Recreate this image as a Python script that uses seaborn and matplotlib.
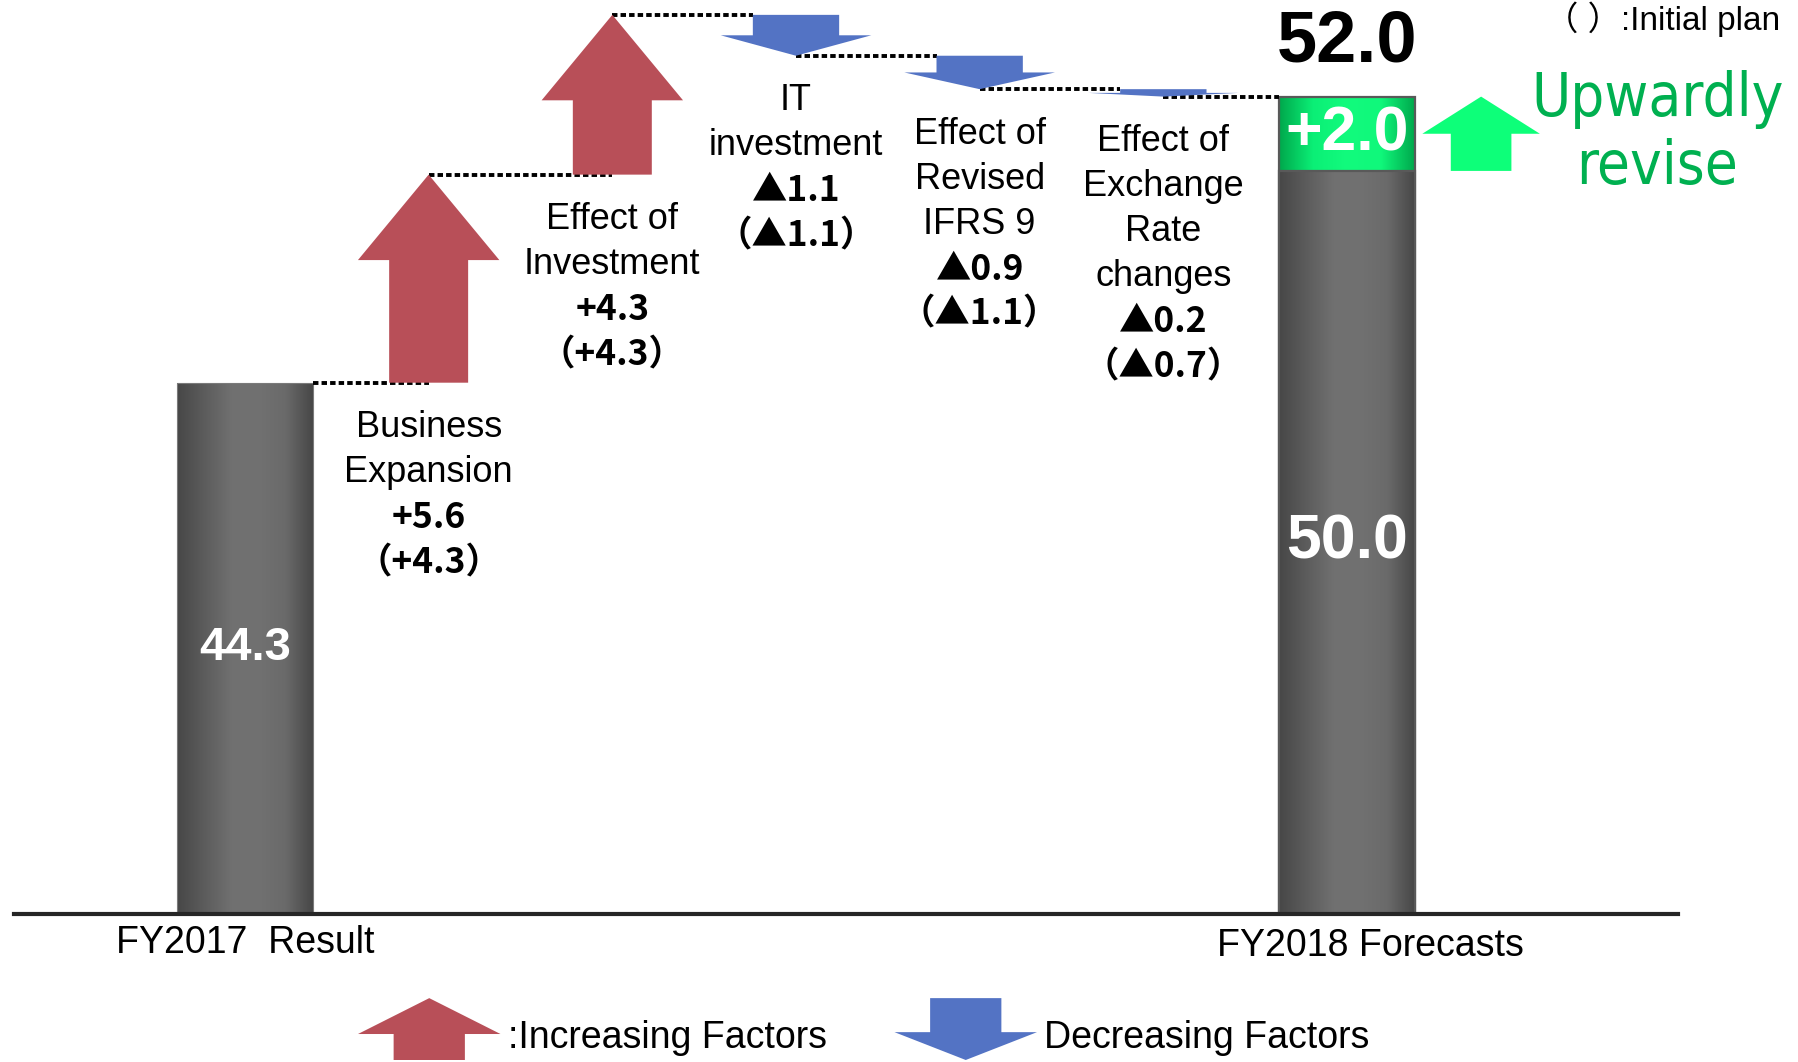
import numpy as np
import pandas as pd
import matplotlib
matplotlib.use("Agg")
import matplotlib.pyplot as plt
from matplotlib import font_manager as fm
from matplotlib import transforms as mtransforms
from matplotlib.colors import LinearSegmentedColormap
from matplotlib.patches import Patch, Polygon
from matplotlib.legend_handler import HandlerPatch
import seaborn as sns

# ---------------- data ----------------
categories = ["FY2017  Result", "Business\nExpansion", "Effect of\nInvestment",
              "IT\ninvestment", "Effect of\nRevised\nIFRS 9",
              "Effect of\nExchange\nRate\nchanges", "FY2018 Forecasts"]
result_fy2017 = 44.3
step_changes = [5.6, 4.3, -1.1, -0.9, -0.2]          # revised forecast factors
initial_plan_changes = [4.3, 4.3, -1.1, -1.1, -0.7]  # initial plan (in parentheses)
initial_plan_fy2018 = 50.0
forecast_fy2018 = 52.0
legend_labels = [":Increasing Factors", "Decreasing Factors"]
note_text = "（ ）:Initial plan"
revise_lines = ["Upwardly", "revise"]

# ---------------- style ----------------
RED = "#B84F58"
BLUE = "#5373C4"
GREEN_ARROW = "#0DFF79"
GREEN_TEXT = "#00B050"

sns.set_style("white")
plt.rcParams["font.family"] = ["Liberation Sans", "Noto Sans CJK JP", "DejaVu Sans"]
plt.rcParams["text.color"] = "black"
plt.rcParams["xtick.color"] = "black"
plt.rcParams["xtick.labelcolor"] = "black"
VALUE_FAMILY = ["Noto Sans CJK JP", "Liberation Sans", "DejaVu Sans"]

# find a condensed font for "Upwardly revise" if one is installed
narrow_fp = None
for f in fm.fontManager.ttflist:
    nm = f.name.lower()
    if ("narrow" in nm or "condensed" in nm or str(f.stretch) in ("condensed", "semi-condensed")) \
            and str(f.weight) in ("400", "normal", "regular", "book") and f.style == "normal":
        narrow_fp = fm.FontProperties(fname=f.fname, size=43)
        break
if narrow_fp is None:
    narrow_fp = fm.FontProperties(family=["Noto Sans CJK JP", "DejaVu Sans"], size=44)

W, H = 1798, 1062
fig = plt.figure(figsize=(W / 100, H / 100), dpi=100)
ax = fig.add_axes([14 / W, 1 - 914 / H, 1664 / W, 914 / H])
Y_MIN, Y_MAX = 30.0, 54.6
X_MIN, X_MAX = -1.2575, 7.802

n = len(categories)
pos = np.arange(n)
levels = np.concatenate([[result_fy2017], result_fy2017 + np.cumsum(step_changes)])

def fmt(v):
    return f"+{v:.1f}" if v > 0 else f"▲{abs(v):.1f}"

# ---------------- bars (seaborn) ----------------
BAR_W = 0.74
df_total = pd.DataFrame({"category": [categories[0], categories[-1]],
                         "value": [result_fy2017, forecast_fy2018]})
df_base = pd.DataFrame({"category": [categories[0], categories[-1]],
                        "value": [result_fy2017, initial_plan_fy2018]})
sns.barplot(data=df_total, x="category", y="value", order=categories, width=BAR_W,
            color=GREEN_TEXT, errorbar=None, ax=ax)
green_patches = list(ax.patches)
sns.barplot(data=df_base, x="category", y="value", order=categories, width=BAR_W,
            color="#606060", errorbar=None, ax=ax)
gray_patches = [p for p in ax.patches if p not in green_patches]

gray_cmap = LinearSegmentedColormap.from_list(
    "grayg", ["#474747", "#5c5c5c", "#707070", "#717171", "#6a6a6a", "#474747"])
green_cmap = LinearSegmentedColormap.from_list(
    "greeng", ["#00A84C", "#0BEF76", "#12FB7D", "#10F87B", "#00A84C"])
grad = np.linspace(0, 1, 256).reshape(1, -1)

def fill_gradient(patch, cmap, z, edge, lw):
    x0, w = patch.get_x(), patch.get_width()
    y0, h = patch.get_y(), patch.get_height()
    y_lo = max(y0, Y_MIN)
    im = ax.imshow(grad, cmap=cmap, extent=[x0, x0 + w, y_lo, y0 + h], aspect="auto",
                   interpolation="bilinear", origin="lower", zorder=z)
    im.set_clip_path(patch)
    patch.set_facecolor("none")
    patch.set_edgecolor(edge)
    patch.set_linewidth(lw)
    patch.set_zorder(z + 0.5)

for p in green_patches:
    if p.get_x() < n / 2:
        p.set_visible(False)
    else:
        fill_gradient(p, green_cmap, 1.0, "#595959", 1.6)
for p in gray_patches:
    if p.get_x() < n / 2:
        fill_gradient(p, gray_cmap, 2.0, "#7a7a7a", 0.8)
    else:
        fill_gradient(p, gray_cmap, 2.0, "#595959", 1.6)

# ---------------- connectors ----------------
UP_HH, UP_HB, UP_HL = 0.385, 0.215, 2.3
DN_HH, DN_HB, DN_FRAC = 0.41, 0.235, 0.5
for i, lv in enumerate(levels):
    start = pos[i] + BAR_W / 2 if i == 0 else pos[i]
    nxt = i + 1
    if nxt == n - 1:
        end = pos[nxt] - BAR_W / 2
    elif step_changes[nxt - 1] > 0:
        end = pos[nxt]
    else:
        end = pos[nxt] - DN_HB
    ax.plot([start, end], [lv, lv], color="black", lw=2.8,
            linestyle=(0, (1.4, 0.8)), zorder=2.8)

# ---------------- arrows ----------------
def arrow_xy(x, y_from, y_to, hh, hb, hl):
    d = np.sign(y_to - y_from)
    yb = y_to - d * hl
    xs = [x - hb, x + hb, x + hb, x + hh, x, x - hh, x - hb]
    ys = [y_from, y_from, yb, yb, y_to, yb, yb]
    return xs, ys

for i, ch in enumerate(step_changes):
    x = pos[i + 1]
    y0, y1 = levels[i], levels[i + 1]
    if ch > 0:
        xs, ys = arrow_xy(x, y0, y1, UP_HH, UP_HB, min(UP_HL, 0.55 * abs(ch)))
        ax.fill(xs, ys, color=RED, lw=0, zorder=3)
    else:
        xs, ys = arrow_xy(x, y0, y1, DN_HH, DN_HB, DN_FRAC * abs(ch))
        ax.fill(xs, ys, color=BLUE, lw=0, zorder=3)

# upward revision arrow next to the forecast bar
xs, ys = arrow_xy(pos[-1] + 0.73, initial_plan_fy2018, forecast_fy2018, 0.32, 0.165,
                  0.5 * (forecast_fy2018 - initial_plan_fy2018))
ax.fill(xs, ys, color=GREEN_ARROW, lw=0, zorder=3)

# ---------------- step labels ----------------
LINE_PX, FIRST_PX = 45, 45
for i, (name, ch, plan) in enumerate(zip(categories[1:-1], step_changes, initial_plan_changes)):
    x = pos[i + 1]
    low = min(levels[i], levels[i + 1])
    lines = [(t, False) for t in name.split("\n")] + [(fmt(ch), True), (f"（{fmt(plan)}）", True)]
    for k, (t, b) in enumerate(lines):
        ax.annotate(t, xy=(x, low), xytext=(0, -FIRST_PX - k * LINE_PX),
                    textcoords="offset pixels", ha="center", va="center",
                    fontsize=25.5 if b else 26, fontweight="bold" if b else "normal",
                    family=VALUE_FAMILY if b else None, color="black")

# ---------------- bar labels ----------------
ax.text(pos[0], (Y_MIN + result_fy2017) / 2, f"{result_fy2017:.1f}", ha="center", va="center",
        color="white", fontsize=34, fontweight="bold", zorder=5)
ax.text(pos[-1], (Y_MIN + initial_plan_fy2018) / 2, f"{initial_plan_fy2018:.1f}", ha="center",
        va="center", color="white", fontsize=45, fontweight="bold", zorder=5)
ax.text(pos[-1], (initial_plan_fy2018 + forecast_fy2018) / 2,
        fmt(forecast_fy2018 - initial_plan_fy2018), ha="center", va="center",
        color="white", fontsize=45, fontweight="bold", zorder=5)
ax.annotate(f"{forecast_fy2018:.1f}", xy=(pos[-1], forecast_fy2018), xytext=(0, 54),
            textcoords="offset pixels", ha="center", va="center", fontsize=52,
            fontweight="bold", color="black")
for k, t in enumerate(revise_lines):
    ax.annotate(t, xy=(pos[-1] + 1.69, (initial_plan_fy2018 + forecast_fy2018) / 2),
                xytext=(0, 34 - 68 * k), textcoords="offset pixels", ha="center",
                va="center", fontproperties=narrow_fp, color=GREEN_TEXT)

# ---------------- axes ----------------
ax.set_xlim(X_MIN, X_MAX)
ax.set_ylim(Y_MIN, Y_MAX)
ax.set_xticks([pos[0], pos[-1]], [categories[0], categories[-1]])
ax.tick_params(axis="x", length=0, pad=8, labelsize=27, labelcolor="black")
ticklabels = ax.get_xticklabels()
ticklabels[-1].set_transform(ticklabels[-1].get_transform() +
                             mtransforms.ScaledTranslation(0.23, -0.03, fig.dpi_scale_trans))
ax.set_yticks([])
ax.set_xlabel("")
ax.set_ylabel("")
for s in ["top", "left", "right"]:
    ax.spines[s].set_visible(False)
ax.spines["bottom"].set_linewidth(3)
ax.spines["bottom"].set_color("#262626")
ax.spines["bottom"].set_zorder(6)
ax.set_facecolor("none")

# ---------------- legend ----------------
class ArrowHandler(HandlerPatch):
    def __init__(self, up):
        super().__init__()
        self.up = up

    def create_artists(self, legend, orig_handle, xdescent, ydescent, width, height,
                       fontsize, trans):
        x0, y0 = -xdescent, -ydescent
        top = height
        full = top - y0
        cx = x0 + width / 2
        hb = width * 0.25
        if self.up:
            yb = y0 + full * 0.42
            pts = [(cx - hb, y0), (cx + hb, y0), (cx + hb, yb), (x0 + width, yb),
                   (cx, top), (x0, yb), (cx - hb, yb)]
        else:
            yb = y0 + full * 0.45
            pts = [(cx - hb, top), (cx + hb, top), (cx + hb, yb), (x0 + width, yb),
                   (cx, y0), (x0, yb), (cx - hb, yb)]
        poly = Polygon(pts, closed=True, facecolor=orig_handle.get_facecolor(),
                       edgecolor="none", transform=trans)
        return [poly]

h_up = Patch(facecolor=RED)
h_dn = Patch(facecolor=BLUE)
leg = fig.legend(handles=[h_up, h_dn], labels=legend_labels,
                 handler_map={h_up: ArrowHandler(True), h_dn: ArrowHandler(False)},
                 loc="lower left", bbox_to_anchor=(358 / W, 2 / H), ncol=2, frameon=False,
                 prop={"size": 27}, handlelength=3.8, handleheight=1.65, handletextpad=0.2,
                 columnspacing=1.8, borderpad=0, borderaxespad=0, labelcolor="black")

fig.text(1545 / W, 1 - 30 / H, note_text, ha="left", va="baseline", fontsize=24, color="black")

fig.savefig("out.png", dpi=100)
